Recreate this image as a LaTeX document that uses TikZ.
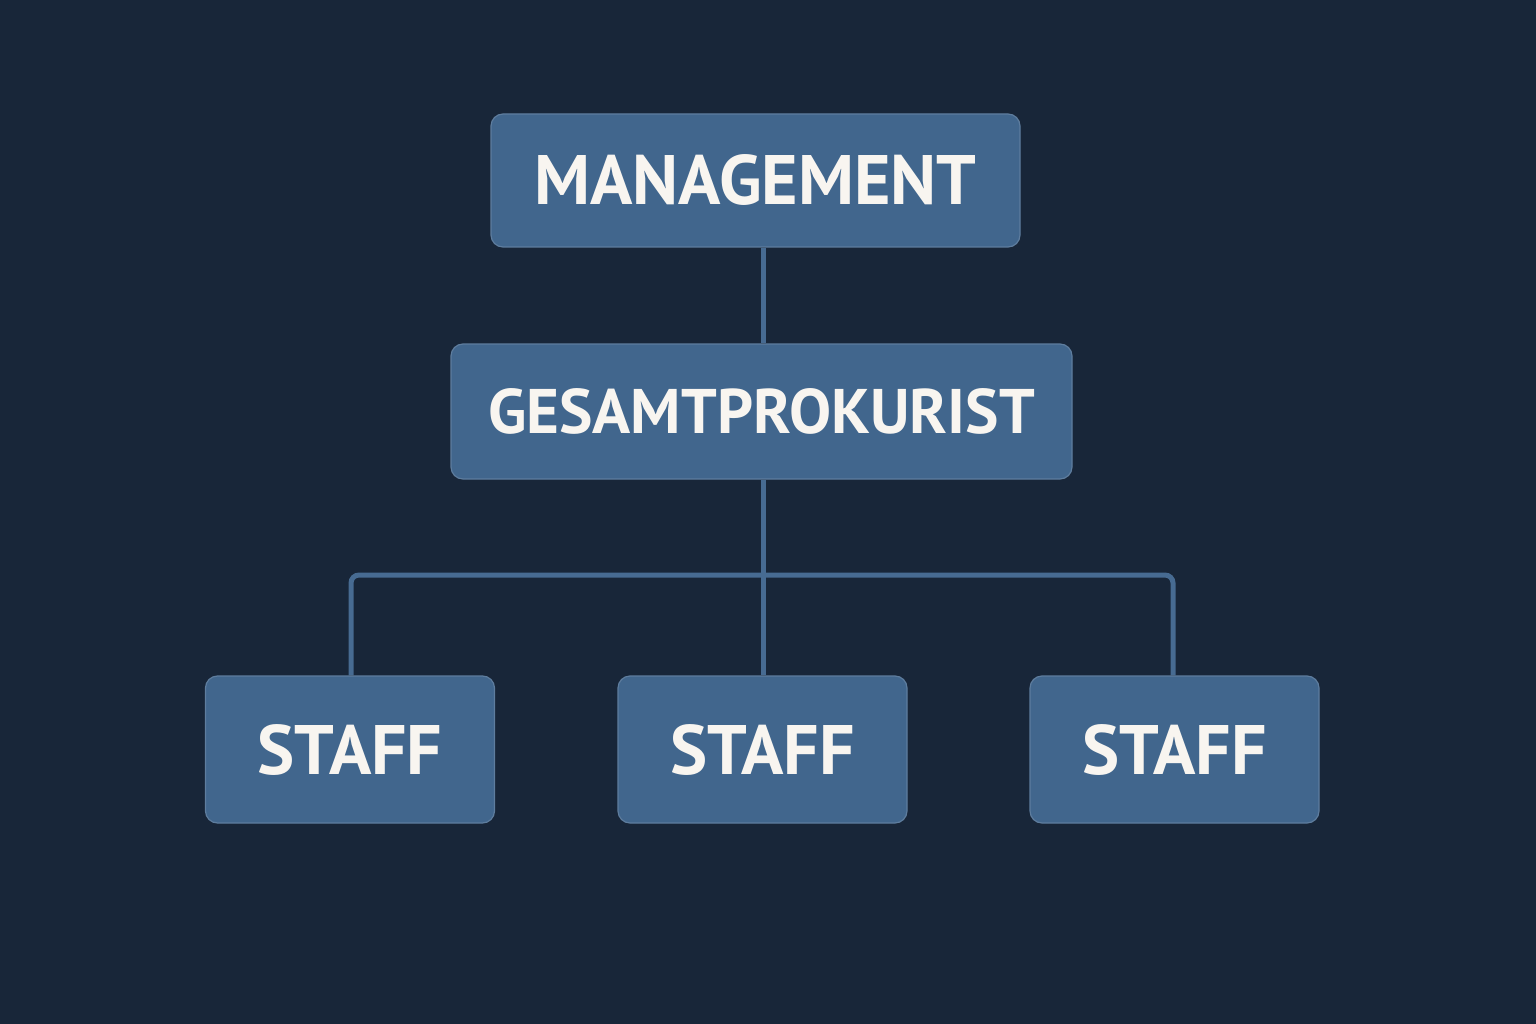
\documentclass[tikz,border=0pt]{standalone}
\usepackage{fontspec}
\setmainfont{PT Sans}
\definecolor{bg}{HTML}{182639}
\definecolor{boxc}{HTML}{41668D}
\definecolor{linec}{HTML}{476B92}
\definecolor{txt}{HTML}{F8F5F0}
\pgfdeclarelayer{bgfill}
\pgfdeclarelayer{lines}
\pgfsetlayers{bgfill,lines,main}
\begin{document}
\begin{tikzpicture}[x=1pt,y=-1pt,
  box/.style={draw=boxc!85!white, line width=1.2pt, fill=boxc, rounded corners=12pt, inner sep=0pt, text=txt, font=\bfseries},
  big/.style={font=\bfseries\fontsize{70}{70}\selectfont},
  staffbox/.style={box, big, minimum width=289pt, minimum height=147pt},
  conn/.style={draw=linec, line width=5pt, rounded corners=8pt}]
\begin{pgfonlayer}{bgfill}
\fill[bg] (0,0) rectangle (1536,1024);
\end{pgfonlayer}
\useasboundingbox (0,0) rectangle (1536,1024);
\node[box, big, minimum width=529pt, minimum height=133pt] (mgmt) at (755.5,180.5) {MANAGEMENT};
\node[box, minimum width=621pt, minimum height=135pt, font=\bfseries\fontsize{63}{63}\selectfont] (gp) at (761.5,411.5) {GESAMTPROKURIST};
\node[staffbox] (s1) at (350,749.5) {STAFF};
\node[staffbox] (s2) at (762.5,749.5) {STAFF};
\node[staffbox] (s3) at (1174.5,749.5) {STAFF};
\coordinate (bus) at (763,575);
\coordinate (busl) at (351,575);
\coordinate (busr) at (1173,575);
\begin{pgfonlayer}{lines}
\draw[conn] (mgmt.south -| bus) -- (gp.north -| bus);
\draw[conn] (gp.south -| bus) -- (s2.north -| bus);
\draw[conn] (s1.north -| busl) -- (busl) -- (busr) -- (s3.north -| busr);
\end{pgfonlayer}
\end{tikzpicture}
\end{document}
